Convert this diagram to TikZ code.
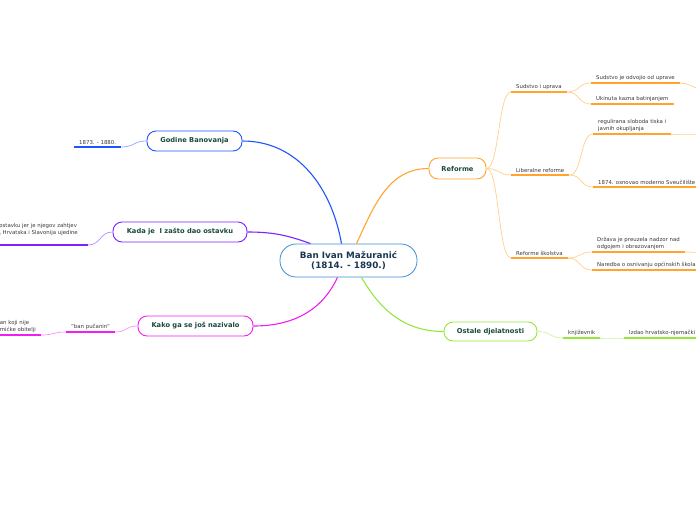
\documentclass[tikz,border=0pt]{standalone}
\usepackage{fontspec}
\setmainfont{DejaVu Sans}
\definecolor{bluebr}{HTML}{1F55FF}
\definecolor{bluefd}{HTML}{8FA8FF}
\definecolor{purplebr}{HTML}{7A22FF}
\definecolor{purplefd}{HTML}{B68EFF}
\definecolor{magentabr}{HTML}{F01EF0}
\definecolor{magentafd}{HTML}{FF8CFF}
\definecolor{orangebr}{HTML}{FFA42E}
\definecolor{orangefd}{HTML}{FFD08C}
\definecolor{greenbr}{HTML}{94E83A}
\definecolor{greenfd}{HTML}{C8F5A0}
\definecolor{centerbr}{HTML}{3A8FD6}
\definecolor{topictext}{HTML}{1A4A38}
\definecolor{centertext}{HTML}{1B3752}
\definecolor{leaftext}{HTML}{3A3A3A}

\tikzset{
  topic/.style={draw, line width=0.9pt, rounded corners=9pt, fill=white, inner sep=0pt,
    font=\fontsize{6.7}{8}\selectfont\bfseries, text=topictext},
  leaf/.style={font=\fontsize{5.4}{6.7}\selectfont, text=leaftext, inner xsep=5pt,
    inner ysep=2.5pt, align=left},
  uline/.style={line width=1.4pt},
  branch/.style={line width=1.1pt},
  twig/.style={out=0, in=180, distance=13pt, line width=0.7pt},
}

\begin{document}
\begin{tikzpicture}[x=1pt, y=-1pt]
    \useasboundingbox (0,0) rectangle (696,520);
    \clip (0,0) rectangle (696,520);

    % central topic
    \node[draw=centerbr, line width=0.8pt, rounded corners=16pt, fill=white,
      minimum width=137pt, minimum height=33pt, inner sep=0pt, align=center,
      font=\fontsize{8.8}{10.8}\selectfont\bfseries, text=centertext]
      (ban) at (348.5,260.5) {Ban Ivan Mažuranić\\(1814. - 1890.)};

    % main topics
    \node[topic, draw=bluebr, minimum width=95pt, minimum height=20pt] (godine) at (194.5,141) {Godine Banovanja};
    \node[topic, draw=purplebr, minimum width=134pt, minimum height=20pt] (kada) at (180,232) {Kada je\ \ I zašto dao ostavku};
    \node[topic, draw=magentabr, minimum width=115pt, minimum height=20pt] (kako) at (195.5,326) {Kako ga se još nazivalo};
    \node[topic, draw=orangebr, minimum width=57pt, minimum height=21pt] (ref) at (457.5,168.5) {Reforme};
    \node[topic, draw=greenbr, minimum width=93pt, minimum height=19pt] (ost) at (490.5,331.5) {Ostale djelatnosti};

    \draw[branch, bluebr] ([xshift=-7pt]ban.north) to[out=100, in=0] (godine.east);
    \draw[branch, purplebr] ([xshift=-38pt]ban.north) to[out=160, in=0] (kada.east);
    \draw[branch, magentabr] ([xshift=-11pt]ban.south) to[out=-115, in=0] (kako.east);
    \draw[branch, orangebr] ([xshift=8pt]ban.north) to[out=65, in=180] (ref.west);
    \draw[branch, greenbr] ([xshift=13pt]ban.south) to[out=-60, in=180] (ost.west);

    % left side
    \node[leaf, anchor=south west] (yr) at (74,147) {1873. - 1880.};
    \node[leaf, anchor=south east, inner ysep=9pt] (razlog) at (83,245) {ostavku jer je njegov zahtjev\\, Hrvatska i Slavonija ujedine};
    \coordinate (razlogend) at ([xshift=5pt]razlog.south east);
    \node[leaf, anchor=south west] (pucanin) at (66,332) {"ban pučanin"};
    \node[leaf, anchor=south east] (plemic) at (41,335) {an koji nije\\mićke obitelji};

    \draw[uline, bluebr] (yr.south west) -- (yr.south east);
    \draw[uline, purplebr] (razlog.south west) -- (razlogend);
    \draw[uline, magentabr] (pucanin.south west) -- (pucanin.south east);
    \draw[uline, magentabr] (plemic.south west) -- (plemic.south east);

    \draw[twig, bluefd] (yr.south east) to (godine.west);
    \draw[twig, purplefd] (razlogend) to (kada.west);
    \draw[twig, magentafd] (pucanin.south east) to (kako.west);
    \draw[twig, magentafd] (plemic.south east) to (pucanin.south west);

    % Reforme
    \node[leaf, anchor=south west] (sud) at (511,92) {Sudstvo i uprava};
    \node[leaf, anchor=south west] (lib) at (511,175) {Liberalne reforme};
    \node[leaf, anchor=south west] (skol) at (511,258) {Reforme školstva};
    \node[leaf, anchor=south west] (sud1) at (591,83) {Sudstvo je odvojio od uprave};
    \node[leaf, anchor=south west] (sud2) at (591,104) {Ukinuta kazna batinjanjem};
    \node[leaf, anchor=south west] (lib1) at (593,134) {regulirana sloboda tiska i\\javnih okupljanja};
    \node[leaf, anchor=south west] (lib2) at (593,187) {1874. osnovao moderno Sveučilište};
    \node[leaf, anchor=south west] (skol1) at (592,252) {Država je preuzela nadzor nad\\odgojem i obrazovanjem};
    \node[leaf, anchor=south west] (skol2) at (592,270) {Naredba o osnivanju općinskih škola};
    \coordinate (sud1x) at (722,98);
    \coordinate (lib1x) at (722,134);
    \coordinate (skol1x) at (722,254);

    \foreach \n in {sud, lib, skol, sud1, sud2, lib1, lib2, skol1, skol2}
        \draw[uline, orangebr] (\n.south west) -- (\n.south east);

    \foreach \n in {sud, lib, skol}
        \draw[twig, orangefd] (ref.east) to (\n.south west);
    \draw[twig, orangefd] (sud.south east) to (sud1.south west);
    \draw[twig, orangefd] (sud.south east) to (sud2.south west);
    \draw[twig, orangefd] (lib.south east) to (lib1.south west);
    \draw[twig, orangefd] (lib.south east) to (lib2.south west);
    \draw[twig, orangefd] (skol.south east) to (skol1.south west);
    \draw[twig, orangefd] (skol.south east) to (skol2.south west);
    \draw[twig, orangefd] (sud1.south east) to (sud1x);
    \draw[twig, orangefd] (lib1.south east) to (lib1x);
    \draw[twig, orangefd] (skol1.south east) to (skol1x);

    % Ostale djelatnosti
    \node[leaf, anchor=south west] (kniz) at (563,338) {književnik};
    \node[leaf, anchor=south west] (izdao) at (624,338) {Izdao hrvatsko-njemački};
    \draw[uline, greenbr] (kniz.south west) -- (kniz.south east);
    \draw[uline, greenbr] (izdao.south west) -- (izdao.south east);
    \draw[twig, greenfd] (ost.east) to (kniz.south west);
    \draw[twig, greenfd] (kniz.south east) to (izdao.south west);
\end{tikzpicture}
\end{document}
